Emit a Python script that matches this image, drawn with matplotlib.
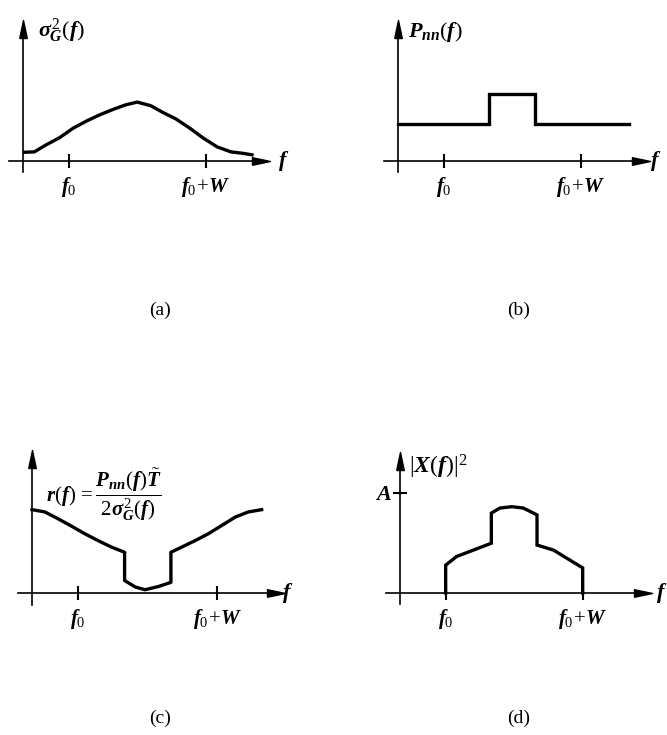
import matplotlib
matplotlib.use('Agg')
import matplotlib.pyplot as plt

plt.rcParams['font.family'] = 'Liberation Serif'
plt.rcParams['mathtext.fontset'] = 'custom'
plt.rcParams['mathtext.rm'] = 'Liberation Serif'
plt.rcParams['mathtext.it'] = 'Liberation Serif:italic:bold'
plt.rcParams['mathtext.bf'] = 'Liberation Serif:bold'

# (a) sigma_G^2(f)
sig_f = [0, 0.25, 0.5, 0.8, 1.1, 1.4, 1.7, 2.0, 2.25, 2.5, 2.8, 3.05, 3.35, 3.65, 3.95, 4.25, 4.55, 4.8, 5.05]
sig_v = [0.19, 0.20, 0.35, 0.51, 0.72, 0.88, 1.02, 1.14, 1.23, 1.29, 1.21, 1.07, 0.92, 0.72, 0.50, 0.31, 0.20, 0.17, 0.13]

# (b) P_nn(f)
pnn_f = [0, 2, 2, 3, 3, 5.05]
pnn_v = [0.81, 0.81, 1.47, 1.47, 0.81, 0.81]

# (c) r(f)
r_f = [0, 0.28, 0.57, 0.86, 1.14, 1.43, 1.72, 2, 2, 2.23, 2.44, 2.73, 3, 3, 3.23, 3.52, 3.81, 4.1, 4.39, 4.67, 4.96]
r_v = [1.80, 1.75, 1.60, 1.44, 1.28, 1.13, 0.99, 0.88, 0.27, 0.13, 0.07, 0.14, 0.23, 0.88, 0.99, 1.13, 1.28, 1.46, 1.64, 1.75, 1.80]

# (d) |X(f)|^2
x_f = [1, 1, 1.24, 1.53, 2, 2, 2.19, 2.45, 2.70, 3, 3, 3.36, 3.72, 4, 4]
x_v = [0, 0.61, 0.80, 0.91, 1.09, 1.75, 1.86, 1.89, 1.86, 1.71, 1.05, 0.94, 0.72, 0.55, 0]
A_level = 2.2

tick_pos = [1, 4]
tick_labels = [r'$f_{\mathit{0}}$', r'$f_{\mathit{0}}\!+\!W$']

W, H = 667, 735
fig = plt.figure(figsize=(W / 100, H / 100), dpi=100)

arrow_r = [(-1, -0.42), (1, 0), (-1, 0.42), (-1, -0.42)]
arrow_u = [(-0.42, -1), (0, 1), (0.42, -1), (-0.42, -1)]


def make_axes(x0, y0, unit, xmax, f_off):
    # x0, y0: pixel position of the origin, unit: pixels per data unit
    xlim = (-0.3, xmax)
    ylim = (-0.25, 2.9)
    left = x0 + xlim[0] * unit
    bottom = H - (y0 - ylim[0] * unit)
    w = (xlim[1] - xlim[0]) * unit
    h = (ylim[1] - ylim[0]) * unit
    ax = fig.add_axes([left / W, bottom / H, w / W, h / H])
    ax.set_xlim(*xlim)
    ax.set_ylim(*ylim)
    ax.patch.set_visible(False)
    for s in ['top', 'right']:
        ax.spines[s].set_visible(False)
    for s in ['left', 'bottom']:
        ax.spines[s].set_position(('data', 0))
        ax.spines[s].set_linewidth(1.2)
    ax.set_xticks(tick_pos)
    ax.set_xticklabels(tick_labels, fontsize=15)
    ax.set_yticks([])
    ax.tick_params(axis='x', direction='inout', length=10, width=1.5, pad=5)
    ax.plot(1, 0, marker=arrow_r, color='k', ms=13, transform=ax.get_yaxis_transform(), clip_on=False)
    ax.plot(0, 1, marker=arrow_u, color='k', ms=13, transform=ax.get_xaxis_transform(), clip_on=False)
    ax.annotate(r'$f$', xy=(1, 0), xycoords=ax.get_yaxis_transform(),
                xytext=(f_off, 0), textcoords='offset points', va='center', ha='left', fontsize=16)
    return ax


lw = 2.4

ax = make_axes(23, 161, 45.67, 5.22, 12)
ax.plot(sig_f, sig_v, color='black', lw=lw, solid_joinstyle='round', solid_capstyle='butt')
ax.text(0.32, 2.85, r'$\sigma_G^2(f)$', fontsize=16, va='center', ha='left')

ax = make_axes(398, 161, 45.67, 5.31, 7)
ax.plot(pnn_f, pnn_v, color='black', lw=lw, solid_joinstyle='miter')
ax.text(0.22, 2.82, r'$P_{nn}(f)$', fontsize=16, va='center', ha='left')

ax = make_axes(32, 593, 46.3, 5.28, 4)
ax.plot(r_f, r_v, color='black', lw=lw, solid_joinstyle='round')
ax.text(0.3, 2.12, r'$r(f)\,=\dfrac{P_{nn}(f)\tilde{T}}{2\sigma_G^2(f)}$', fontsize=15, va='center', ha='left')

ax = make_axes(400, 593, 45.67, 5.33, 9)
ax.plot(x_f, x_v, color='black', lw=lw, solid_joinstyle='miter')
ax.text(0.2, 2.76, r'$|X(f)|^2$', fontsize=17, va='center', ha='left')
ax.set_yticks([A_level])
ax.set_yticklabels([r'$A$'], fontsize=16)
ax.tick_params(axis='y', direction='inout', length=10, width=1.5, pad=1)

for lab, px, py in [('(a)', 160, 310), ('(b)', 519, 310), ('(c)', 160, 718), ('(d)', 519, 718)]:
    fig.text(px / W, 1 - py / H, lab, fontsize=14, ha='center', va='center')

fig.savefig('out.png', dpi=100)
